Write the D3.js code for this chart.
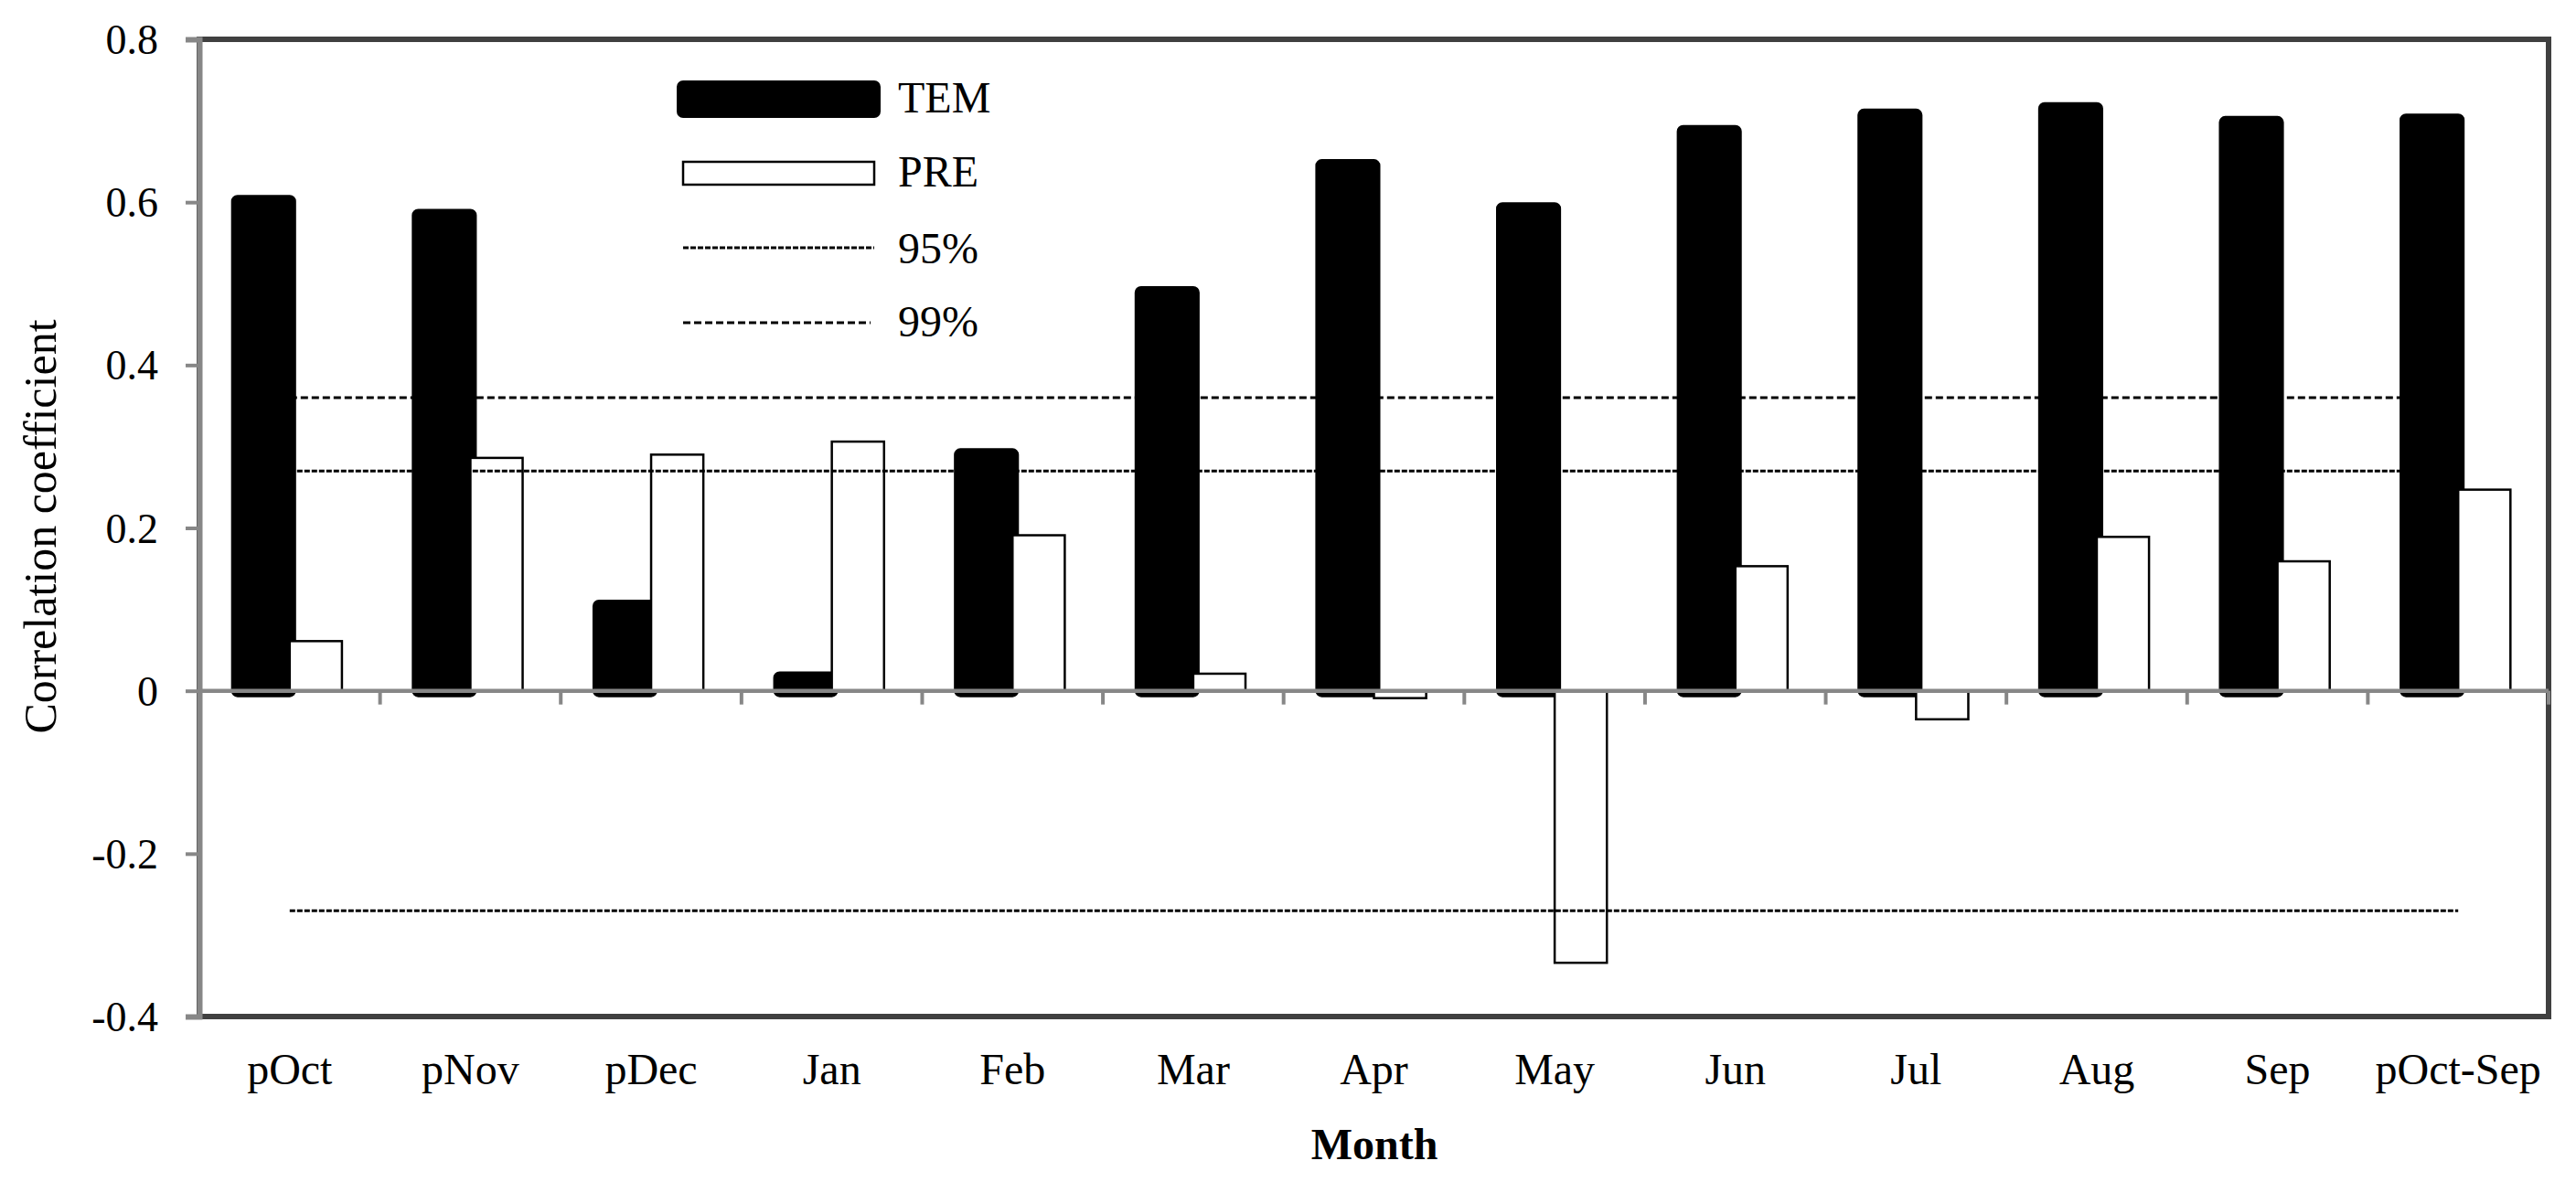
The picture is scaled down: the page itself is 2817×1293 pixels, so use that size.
<!DOCTYPE html>
<html>
<head>
<meta charset="utf-8">
<script src="https://cdn.jsdelivr.net/npm/d3@7"></script>
<style>
  html, body { margin: 0; padding: 0; background: #fff; }
  svg, svg text { font-family: "Liberation Serif", "Times New Roman", serif; }
</style>
</head>
<body>
<svg id="chart" width="2817" height="1293"></svg>
<script>
// ---- data ----
const months = ["pOct", "pNov", "pDec", "Jan", "Feb", "Mar", "Apr", "May", "Jun", "Jul", "Aug", "Sep", "pOct-Sep"];
const temValues = [0.601, 0.584, 0.104, 0.016, 0.290, 0.489, 0.645, 0.592, 0.687, 0.707, 0.715, 0.698, 0.701];
const preValues = [0.061, 0.286, 0.290, 0.306, 0.191, 0.021, -0.009, -0.334, 0.153, -0.035, 0.189, 0.159, 0.247];
const sig95 = [0.27, -0.27];
const sig99 = [0.36];
const yTicks = [-0.4, -0.2, 0, 0.2, 0.4, 0.6, 0.8];
const yTickLabels = ["-0.4", "-0.2", "0", "0.2", "0.4", "0.6", "0.8"];
const legendLabels = ["TEM", "PRE", "95%", "99%"];
const yTitle = "Correlation coefficient";
const xTitle = "Month";

// ---- layout ----
const svg = d3.select("#chart");
const FONT = "'Liberation Serif', 'Times New Roman', serif";
const L = 218, R = 2787, T = 43, B = 1112;
const axisGray = "#878787", frameDark = "#404040";

const x = d3.scaleBand().domain(months).range([L, R]).paddingInner(0).paddingOuter(0);
const y = d3.scaleLinear().domain([-0.4, 0.8]).range([B, T]);
const bw = x.bandwidth() * 0.289;
const cx = d => x(d) + x.bandwidth() / 2;

svg.append("rect").attr("width", 2817).attr("height", 1293).attr("fill", "#fff");

// frame
svg.append("rect").attr("x", L).attr("y", T).attr("width", R - L).attr("height", B - T)
  .attr("fill", "none").attr("stroke", frameDark).attr("stroke-width", 6);

// TEM bars (thick rounded outline)
const temStroke = 14;
svg.append("g").selectAll("rect").data(months).join("rect")
  .attr("x", d => cx(d) - bw)
  .attr("width", bw)
  .attr("y", (d, i) => Math.min(y(temValues[i]), y(0)))
  .attr("height", (d, i) => Math.abs(y(temValues[i]) - y(0)))
  .attr("fill", "#000").attr("stroke", "#000")
  .attr("stroke-width", temStroke).attr("stroke-linejoin", "round");

// PRE bars
svg.append("g").selectAll("rect").data(months).join("rect")
  .attr("x", d => cx(d))
  .attr("width", bw)
  .attr("y", (d, i) => Math.min(y(preValues[i]), y(0)))
  .attr("height", (d, i) => Math.abs(y(preValues[i]) - y(0)))
  .attr("fill", "#fff").attr("stroke", "#000").attr("stroke-width", 2.5);

// significance lines
const x0 = cx(months[0]), x1 = cx(months[months.length - 1]);
svg.append("g").selectAll("line").data(sig95).join("line")
  .attr("x1", x0).attr("x2", x1).attr("y1", d => y(d)).attr("y2", d => y(d))
  .attr("stroke", "#000").attr("stroke-width", 3).attr("stroke-dasharray", "6,2");
svg.append("g").selectAll("line").data(sig99).join("line")
  .attr("x1", x0).attr("x2", x1).attr("y1", d => y(d)).attr("y2", d => y(d))
  .attr("stroke", "#000").attr("stroke-width", 3).attr("stroke-dasharray", "8,4");

// zero axis line with category boundary ticks
const zeroY = y(0);
svg.append("line").attr("x1", L).attr("x2", R).attr("y1", zeroY).attr("y2", zeroY)
  .attr("stroke", axisGray).attr("stroke-width", 4.5);
const boundaries = months.map(d => x(d)).concat([R]);
svg.append("g").selectAll("line").data(boundaries).join("line")
  .attr("x1", d => d).attr("x2", d => d)
  .attr("y1", zeroY).attr("y2", zeroY + 15)
  .attr("stroke", axisGray).attr("stroke-width", 4);

// category labels (axis at bottom of frame)
const xAxis = d3.axisBottom(x).tickSize(0).tickPadding(40);
const gx = svg.append("g").attr("transform", `translate(0,${B})`).call(xAxis);
gx.attr("font-family", null).attr("font-size", null);
gx.select(".domain").remove();
gx.selectAll("text").attr("fill", "#000")
  .style("font-family", FONT).style("font-size", "48px");

// left axis
const yAxis = d3.axisLeft(y).tickValues(yTicks).tickSize(15).tickPadding(30)
  .tickFormat((d, i) => yTickLabels[i]);
const gy = svg.append("g").attr("transform", `translate(${L},0)`).call(yAxis);
gy.attr("font-family", null).attr("font-size", null);
gy.select(".domain").attr("stroke", axisGray).attr("stroke-width", 6);
gy.selectAll(".tick line").attr("stroke", axisGray).attr("stroke-width", 4);
gy.selectAll("text").attr("fill", "#000").attr("dy", "0.34em")
  .style("font-family", FONT).style("font-size", "46px");

// axis titles
svg.append("text").attr("transform", "translate(61,576) rotate(-90)")
  .attr("text-anchor", "middle").style("font-family", FONT).style("font-size", "50px").text(yTitle);
svg.append("text").attr("x", 1503).attr("y", 1268).attr("text-anchor", "middle")
  .style("font-family", FONT).style("font-size", "48px").style("font-weight", "bold").text(xTitle);

// legend
const lg = svg.append("g");
const lx = 747, lw = 209, textX = 982;
lg.append("rect").attr("x", lx).attr("y", 95).attr("width", lw).attr("height", 27)
  .attr("fill", "#000").attr("stroke", "#000").attr("stroke-width", temStroke).attr("stroke-linejoin", "round");
lg.append("rect").attr("x", lx).attr("y", 177).attr("width", lw).attr("height", 25)
  .attr("fill", "#fff").attr("stroke", "#000").attr("stroke-width", 2.5);
lg.append("line").attr("x1", lx).attr("x2", lx + lw).attr("y1", 271).attr("y2", 271)
  .attr("stroke", "#000").attr("stroke-width", 3).attr("stroke-dasharray", "6,2");
lg.append("line").attr("x1", lx).attr("x2", lx + lw - 4).attr("y1", 353).attr("y2", 353)
  .attr("stroke", "#000").attr("stroke-width", 3).attr("stroke-dasharray", "8,4");
const baselines = [123, 204, 288, 368];
lg.selectAll("text").data(legendLabels).join("text")
  .attr("x", textX).attr("y", (d, i) => baselines[i])
  .style("font-family", FONT).style("font-size", "48px").text(d => d);
</script>
</body>
</html>
